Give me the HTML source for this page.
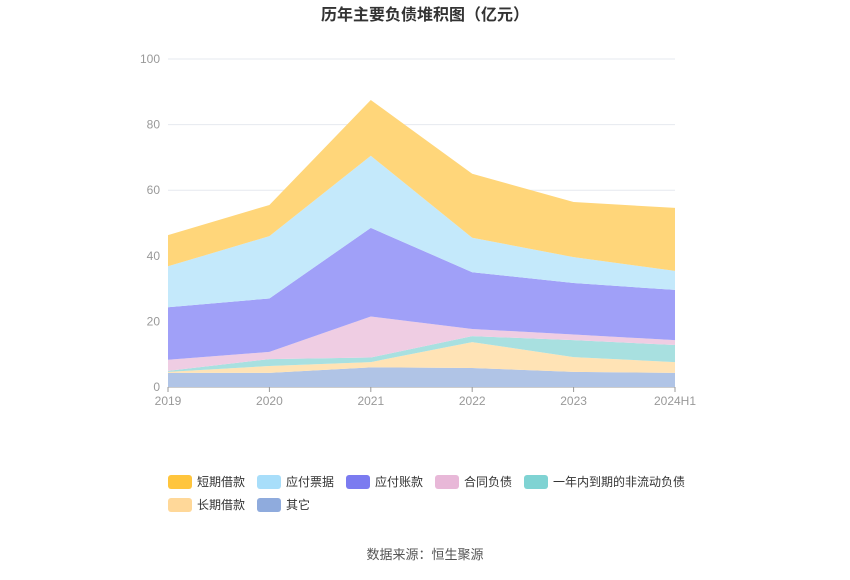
<!DOCTYPE html>
<html><head><meta charset="utf-8"><style>
body{margin:0;background:#fff;font-family:"Liberation Sans","Noto Sans CJK SC",sans-serif;}
</style></head><body>
<svg id="c" width="850" height="575" xmlns="http://www.w3.org/2000/svg">
<text x="425" y="20" text-anchor="middle" font-size="16" font-weight="bold" fill="#333" font-family="Liberation Sans, Noto Sans CJK SC, sans-serif">历年主要负债堆积图（亿元）</text>
<g id="grid"></g><g id="areas"></g><g id="axis"></g><g id="legend"></g>
<text x="425" y="559" text-anchor="middle" font-size="13" fill="#555" font-family="Liberation Sans, Noto Sans CJK SC, sans-serif">数据来源：恒生聚源</text>
</svg>
<script>
const categories=["2019","2020","2021","2022","2023","2024H1"];
const yTicks=[0,20,40,60,80,100];
const seriesNames=["其它","长期借款","一年内到期的非流动负债","合同负债","应付账款","应付票据","短期借款"];
const other=[4.3,4.3,6,5.8,4.6,4.3];
const longLoan=[0.3,2.1,1.6,7.9,4.5,3.3];
const currentNonCurrent=[0.3,2.1,1.4,1.8,5.2,5.2];
const contract=[3.4,2.2,12.5,2.2,1.7,1.5];
const payables=[16,16.3,27,17.3,15.7,15.3];
const notes=[12.5,19,22,10.5,7.9,5.8];
const shortLoan=[9.5,9.5,17,19.5,16.8,19.2];
const fills=["#b0c4e6","#ffe3b5","#a8e0e0","#efcde3","#a0a0f8","#c4e9fb","#ffd67a"];
const swatch=["#8fabdd","#ffd899","#7fd3d3","#e8b8d8","#7b7bf0","#a8defa","#ffc53d"];
const NS="http://www.w3.org/2000/svg";
const X0=168,X1=675,Y0=387,Y1=59;
const xs=i=>X0+(X1-X0)*i/(categories.length-1);
const ys=v=>Y0-(Y0-Y1)*v/100;
function mk(t,a,p){const e=document.createElementNS(NS,t);for(const k in a)e.setAttribute(k,a[k]);p.appendChild(e);return e;}
const grid=document.getElementById('grid'),axis=document.getElementById('axis');
yTicks.forEach(t=>{
 const l=mk('line',{x1:X0,x2:X1,y1:ys(t),y2:ys(t),stroke:t?'#e6e9ef':'#999','stroke-width':1},grid);
 
 
 const tx=mk('text',{x:X0-8,y:ys(t)+4,'text-anchor':'end','font-size':12,fill:'#999'},axis);
 tx.textContent=t;
 
 
});
categories.forEach((c,i)=>{
 const tk=mk('line',{x1:xs(i),x2:xs(i),y1:Y0,y2:Y0+5,stroke:'#999'},axis);
 
 
 const tx=mk('text',{x:xs(i),y:Y0+18,'text-anchor':'middle','font-size':12,fill:'#999'},axis);
 tx.textContent=c;
 
 
});
const series=[other,longLoan,currentNonCurrent,contract,payables,notes,shortLoan];
const areas=document.getElementById('areas');
let base=categories.map(()=>0);
series.forEach((s,k)=>{
 const top=base.map((b,i)=>b+s[i]);
 let d=top.map((v,i)=>(i?'L':'M')+xs(i)+','+ys(v)).join(' ');
 for(let i=categories.length-1;i>=0;i--)d+=' L'+xs(i)+','+ys(base[i]);
 const p=mk('path',{d:d+'Z',fill:fills[k],stroke:'none'},areas);
 
 
 base=top;
});
const legend=document.getElementById('legend');
const order=[6,5,4,3,2,1,0];
const pos=[[168,482],[257,482],[346,482],[435,482],[524,482],[168,505],[257,505]];
order.forEach((k,j)=>{
 const [x,y]=pos[j];
 const g=mk('g',{},legend);
 
 
 mk('rect',{x:x,y:y-7,width:24,height:14,rx:3,fill:swatch[k]},g);
 const t=mk('text',{x:x+29,y:y+4,'font-size':12,fill:'#333'},g);
 t.textContent=seriesNames[k];
});
</script>
</body></html>
